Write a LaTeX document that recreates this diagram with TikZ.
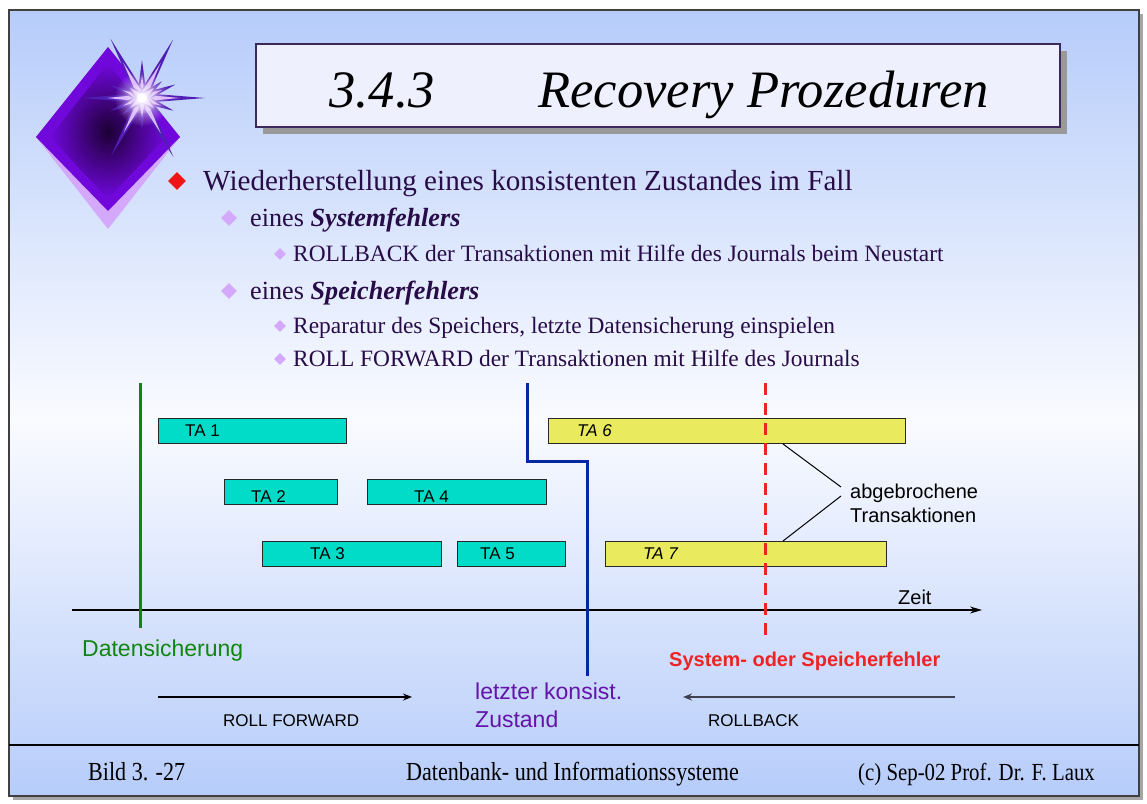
\documentclass[tikz,border=0pt]{standalone}
\usepackage{fontspec}
\setmainfont{Liberation Serif}
\setsansfont{Liberation Sans}
\newfontfamily\footfont[FakeStretch=0.85]{Liberation Serif}
\usetikzlibrary{arrows.meta,shapes.geometric,shadows,fadings}

\definecolor{bgblue}{RGB}{182,204,250}
\definecolor{bgwhite}{RGB}{250,251,255}
\definecolor{ink}{RGB}{40,12,72}
\definecolor{lilac}{RGB}{212,168,250}
\definecolor{bulletred}{RGB}{240,20,20}
\definecolor{tealbox}{RGB}{0,220,200}
\definecolor{yellowbox}{RGB}{234,234,94}
\definecolor{boxline}{RGB}{40,40,40}
\definecolor{dsgreen}{RGB}{16,134,16}
\definecolor{konsblue}{RGB}{0,40,160}
\definecolor{failred}{RGB}{238,36,36}
\definecolor{konspurple}{RGB}{100,20,170}
\definecolor{gemdark}{RGB}{28,0,52}
\definecolor{gempurple}{RGB}{112,8,220}
\definecolor{starpurple}{RGB}{80,30,180}
\definecolor{titlefill}{RGB}{238,240,253}
\definecolor{titleline}{RGB}{60,40,90}
\definecolor{backarrow}{RGB}{64,64,80}

\tikzfading[name=glow,inner color=transparent!0,outer color=transparent!100]

\begin{document}
\begin{tikzpicture}[x=1pt,y=-1pt,
  tabox/.style={draw=boxline,line width=1.2pt,fill=tealbox,minimum height=25pt,inner sep=0pt,anchor=north west},
  yabox/.style={tabox,fill=yellowbox},
  talabel/.style={anchor=west,inner sep=0pt,font=\sffamily\fontsize{17}{20}\selectfont},
  bulA/.style={diamond,fill=bulletred,minimum size=18pt,inner sep=0pt},
  bulB/.style={diamond,fill=lilac,minimum size=16pt,inner sep=0pt},
  bulC/.style={diamond,fill=lilac,minimum size=12pt,inner sep=0pt},
  lvlA/.style={anchor=base west,inner sep=0pt,text=ink,font=\fontsize{29.1}{34}\selectfont},
  lvlB/.style={lvlA,font=\fontsize{26.2}{31}\selectfont},
  lvlC/.style={lvlA,font=\fontsize{23.4}{28}\selectfont},
  foot/.style={anchor=base west,inner sep=0pt,font=\footfont\fontsize{26}{30}\selectfont}]
\useasboundingbox (0,0) rectangle (1147,803);
\fill[white] (0,0) rectangle (1147,803);

%slide frame
\fill[gray!70] (13,14) rectangle (1143,800);
\shade[top color=bgblue,bottom color=bgwhite] (9,10) rectangle (1139,420);
\shade[top color=bgwhite,bottom color=bgblue] (9,420) rectangle (1139,796);
\draw[black!75,line width=1.2pt] (9,10) rectangle (1139,796);

%gem with star
\fill[lilac] (108,47) -- (180,137) -- (108,229) -- (36,137) -- cycle;
\fill[gempurple] (108,47) -- (180,137) -- (108,211) -- (36,137) -- cycle;
\shade[inner color=gemdark,outer color=gempurple] (108,63) -- (166,137) -- (108,199) -- (50,137) -- cycle;
\foreach \a/\r in {90/38,118/67,62/66,0/63,-62/67,-118/65,180/59,-90/32,22/36,-22/34,158/34,-158/34,40/26,140/26,-40/26,-140/26}{
  \begin{scope}[shift={(142,98)},rotate=\a]
  \fill[starpurple] (0,-5) -- (\r,0) -- (0,5) -- cycle;
  \fill[lilac!80!white] (0,-3.5) -- (0.6*\r,0) -- (0,3.5) -- cycle;
  \end{scope}}
\fill[lilac!60!white,path fading=glow] (142,98) circle (28);
\fill[white,path fading=glow] (142,98) circle (16);
\fill[white] (142,98) circle (5);

%title
\node[draw=titleline,line width=1.2pt,fill=titlefill,minimum width=804pt,minimum height=83pt,
  general shadow={fill=gray!80,shadow xshift=7pt,shadow yshift=-7pt}] (title) at (658,85.5) {};
\node[anchor=base,inner sep=0pt,font=\itshape\fontsize{52.6}{60}\selectfont] (titletext) at (659,107)
  {3.4.3\hspace{104pt}Recovery Prozeduren};

%bullets
\node[bulA] (d1) at (177,181) {};
\node[lvlA] (b1) at (203,190) {Wiederherstellung eines konsistenten Zustandes im Fall};
\node[bulB] (d2) at (229,218) {};
\node[lvlB] (b2) at (250,226) {eines \textbf{\textit{Systemfehlers}}};
\node[bulC] (d21) at (280,254) {};
\node[lvlC] (b21) at (293,261) {ROLLBACK der Transaktionen mit Hilfe des Journals beim Neustart};
\node[bulB] (d3) at (229,291) {};
\node[lvlB] (b3) at (250,299) {eines \textbf{\textit{Speicherfehlers}}};
\node[bulC] (d31) at (280,326) {};
\node[lvlC] (b31) at (293,333) {Reparatur des Speichers, letzte Datensicherung einspielen};
\node[bulC] (d32) at (280,359) {};
\node[lvlC] (b32) at (293,366) {ROLL FORWARD der Transaktionen mit Hilfe des Journals};

%transactions
\node[tabox,minimum width=188pt] (ta1) at (158,418) {};
\node[talabel] (ta1l) at (185,431) {TA 1};
\node[tabox,minimum width=113pt] (ta2) at (224,479) {};
\node[talabel] (ta2l) at (251,497) {TA 2};
\node[tabox,minimum width=179pt] (ta4) at (367,479) {};
\node[talabel] (ta4l) at (414,497) {TA 4};
\node[tabox,minimum width=179pt] (ta3) at (262,541) {};
\node[talabel] (ta3l) at (310,554) {TA 3};
\node[tabox,minimum width=108pt] (ta5) at (457,541) {};
\node[talabel] (ta5l) at (480,554) {TA 5};
\node[yabox,minimum width=357pt] (ta6) at (548,418) {};
\node[talabel,font=\sffamily\itshape\fontsize{17}{20}\selectfont] (ta6l) at (577,431) {TA 6};
\node[yabox,minimum width=281pt] (ta7) at (605,541) {};
\node[talabel,font=\sffamily\itshape\fontsize{17}{20}\selectfont] (ta7l) at (643,554) {TA 7};

%time axis
\coordinate (t0) at (72,610);
\coordinate (t1) at (982,610);
\draw[line width=1.5pt,-{Stealth[length=12pt,width=7pt]}] (t0) -- (t1);
\node[anchor=base west,inner sep=0pt,font=\sffamily\fontsize{20}{24}\selectfont] (zeit) at (898,604) {Zeit};

%backup
\coordinate (ds0) at (140,383);
\coordinate (ds1) at (140,628);
\draw[dsgreen,line width=3pt] (ds0) -- (ds1);
\node[anchor=base west,inner sep=0pt,text=dsgreen,font=\sffamily\fontsize{23}{28}\selectfont] (dslabel) at (82,656) {Datensicherung};

%last consistent state
\coordinate (k0) at (527,383);
\coordinate (k1) at (587,461);
\coordinate (k2) at (587,676);
\draw[konsblue,line width=3pt] (k0) |- (k1) -- (k2);
\node[anchor=north west,align=left,inner sep=0pt,text=konspurple,font=\sffamily\fontsize{23}{28}\selectfont] (kons) at (475,683) {letzter konsist.\\Zustand};

%failure
\coordinate (f0) at (765,383);
\coordinate (f1) at (765,640);
\draw[failred,line width=3pt,dash pattern=on 12pt off 8pt] (f0) -- (f1);
\node[anchor=base west,inner sep=0pt,text=failred,font=\sffamily\bfseries\fontsize{20}{24}\selectfont] (fail) at (669,666) {System- oder Speicherfehler};

%aborted transactions
\node[anchor=north west,align=left,inner sep=0pt,font=\sffamily\fontsize{20}{24}\selectfont] (abg) at (850,484) {abgebrochene\\Transaktionen};
\coordinate (a6) at (783,444);
\coordinate (a7) at (783,541);
\draw[line width=1pt] (a6) -- ([xshift=-9pt,yshift=-3pt]abg.north west);
\draw[line width=1pt] (a7) -- ([xshift=-9pt,yshift=-12pt]abg.north west);

%roll forward / rollback
\coordinate (rf0) at (158,697);
\coordinate (rf1) at (412,697);
\draw[line width=2pt,-{Stealth[length=9pt,width=7pt]}] (rf0) -- (rf1);
\node[anchor=base west,inner sep=0pt,font=\sffamily\fontsize{17}{20}\selectfont] (rflabel) at (223,726) {ROLL FORWARD};
\coordinate (rb0) at (955,697);
\coordinate (rb1) at (683,697);
\draw[backarrow,line width=2pt,-{Stealth[length=9pt,width=7pt]}] (rb0) -- (rb1);
\node[anchor=base west,inner sep=0pt,font=\sffamily\fontsize{17}{20}\selectfont] (rblabel) at (708,726) {ROLLBACK};

%footer
\draw[line width=1.5pt] (9,745) -- (1139,745);
\node[foot] (ft1) at (88,780) {Bild 3. -27};
\node[foot] (ft2) at (406,780) {Datenbank- und Informationssysteme};
\node[foot,font=\footfont\fontsize{24.5}{28}\selectfont] (ft3) at (858,780) {(c) Sep-02 Prof. Dr. F. Laux};
\end{tikzpicture}
\end{document}
